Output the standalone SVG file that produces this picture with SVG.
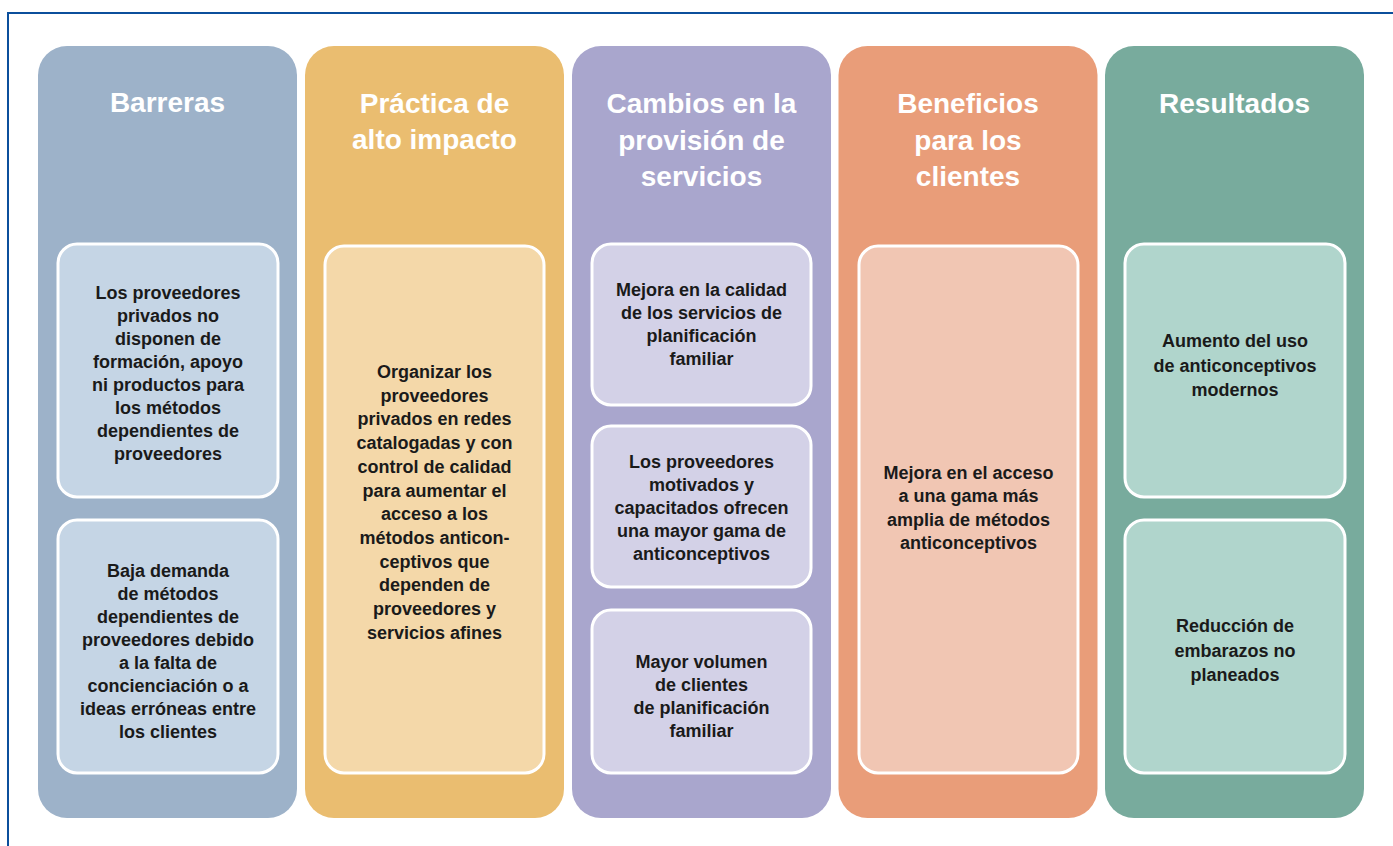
<svg xmlns="http://www.w3.org/2000/svg" width="1393" height="846" viewBox="0 0 1393 846">
<style>
.col{stroke:none}
.box{stroke:#ffffff;stroke-width:3}
.h{font-family:"Liberation Sans",Arial,sans-serif;font-weight:bold;font-size:28px;fill:#ffffff;text-anchor:middle}
.t{font-family:"Liberation Sans",Arial,sans-serif;font-weight:bold;font-size:18px;fill:#1a1a1a;text-anchor:middle}
</style>
<rect width="1393" height="846" fill="#ffffff"/>
<path d="M8,846 V13 H1393" fill="none" stroke="#0b4f9c" stroke-width="2"/>
<g id="connectors"/>

<g id="col-barreras">
<rect class="col" x="38" y="46" width="259" height="772" rx="29" fill="#9db2c9"/>
<text class="h" x="167.5" y="112">Barreras</text>
<g id="barreras-1">
<rect class="box" x="58" y="244" width="220" height="253" rx="19" fill="#c5d5e5"/>
<text class="t" x="168" y="299"><tspan x="168" dy="0">Los proveedores</tspan><tspan x="168" dy="23">privados no</tspan><tspan x="168" dy="23">disponen de</tspan><tspan x="168" dy="23">formación, apoyo</tspan><tspan x="168" dy="23">ni productos para</tspan><tspan x="168" dy="23">los métodos</tspan><tspan x="168" dy="23">dependientes de</tspan><tspan x="168" dy="23">proveedores</tspan></text>
</g>
<g id="barreras-2">
<rect class="box" x="58" y="520" width="220" height="253" rx="19" fill="#c5d5e5"/>
<text class="t" x="168" y="577"><tspan x="168" dy="0">Baja demanda</tspan><tspan x="168" dy="23">de métodos</tspan><tspan x="168" dy="23">dependientes de</tspan><tspan x="168" dy="23">proveedores debido</tspan><tspan x="168" dy="23">a la falta de</tspan><tspan x="168" dy="23">concienciación o a</tspan><tspan x="168" dy="23">ideas erróneas entre</tspan><tspan x="168" dy="23">los clientes</tspan></text>
</g>
</g>

<g id="col-practica">
<rect class="col" x="305" y="46" width="259" height="772" rx="29" fill="#eabd70"/>
<text class="h" x="434.5" y="113"><tspan x="434.5" dy="0">Práctica de</tspan><tspan x="434.5" dy="36">alto impacto</tspan></text>
<g id="practica-1">
<rect class="box" x="325" y="246" width="219" height="527" rx="19" fill="#f4d8a9"/>
<text class="t" x="434.5" y="378"><tspan x="434.5" dy="0">Organizar los</tspan><tspan x="434.5" dy="23.7">proveedores</tspan><tspan x="434.5" dy="23.7">privados en redes</tspan><tspan x="434.5" dy="23.7">catalogadas y con</tspan><tspan x="434.5" dy="23.7">control de calidad</tspan><tspan x="434.5" dy="23.7">para aumentar el</tspan><tspan x="434.5" dy="23.7">acceso a los</tspan><tspan x="434.5" dy="23.7">métodos anticon-</tspan><tspan x="434.5" dy="23.7">ceptivos que</tspan><tspan x="434.5" dy="23.7">dependen de</tspan><tspan x="434.5" dy="23.7">proveedores y</tspan><tspan x="434.5" dy="23.7">servicios afines</tspan></text>
</g>
</g>

<g id="col-cambios">
<rect class="col" x="572" y="46" width="259" height="772" rx="29" fill="#a9a6cd"/>
<text class="h" x="701.5" y="113"><tspan x="701.5" dy="0">Cambios en la</tspan><tspan x="701.5" dy="36.5">provisión de</tspan><tspan x="701.5" dy="36.5">servicios</tspan></text>
<g id="cambios-1">
<rect class="box" x="592" y="244" width="219" height="161" rx="19" fill="#d3d1e7"/>
<text class="t" x="701.5" y="296"><tspan x="701.5" dy="0">Mejora en la calidad</tspan><tspan x="701.5" dy="23">de los servicios de</tspan><tspan x="701.5" dy="23">planificación</tspan><tspan x="701.5" dy="23">familiar</tspan></text>
</g>
<g id="cambios-2">
<rect class="box" x="592" y="426" width="219" height="161" rx="19" fill="#d3d1e7"/>
<text class="t" x="701.5" y="468"><tspan x="701.5" dy="0">Los proveedores</tspan><tspan x="701.5" dy="23">motivados y</tspan><tspan x="701.5" dy="23">capacitados ofrecen</tspan><tspan x="701.5" dy="23">una mayor gama de</tspan><tspan x="701.5" dy="23">anticonceptivos</tspan></text>
</g>
<g id="cambios-3">
<rect class="box" x="592" y="610" width="219" height="163" rx="19" fill="#d3d1e7"/>
<text class="t" x="701.5" y="668"><tspan x="701.5" dy="0">Mayor volumen</tspan><tspan x="701.5" dy="23">de clientes</tspan><tspan x="701.5" dy="23">de planificación</tspan><tspan x="701.5" dy="23">familiar</tspan></text>
</g>
</g>

<g id="col-beneficios">
<rect class="col" x="838.5" y="46" width="259" height="772" rx="29" fill="#e99d79"/>
<text class="h" x="968" y="113"><tspan x="968" dy="0">Beneficios</tspan><tspan x="968" dy="36.5">para los</tspan><tspan x="968" dy="36.5">clientes</tspan></text>
<g id="beneficios-1">
<rect class="box" x="859" y="246" width="219" height="527" rx="19" fill="#f1c6b3"/>
<text class="t" x="968.5" y="479"><tspan x="968.5" dy="0">Mejora en el acceso</tspan><tspan x="968.5" dy="23.3">a una gama más</tspan><tspan x="968.5" dy="23.3">amplia de métodos</tspan><tspan x="968.5" dy="23.3">anticonceptivos</tspan></text>
</g>
</g>

<g id="col-resultados">
<rect class="col" x="1105" y="46" width="259" height="772" rx="29" fill="#78ab9d"/>
<text class="h" x="1234.5" y="113">Resultados</text>
<g id="resultados-1">
<rect class="box" x="1125" y="244" width="220" height="253" rx="19" fill="#b0d5cc"/>
<text class="t" x="1235" y="347"><tspan x="1235" dy="0">Aumento del uso</tspan><tspan x="1235" dy="24.5">de anticonceptivos</tspan><tspan x="1235" dy="24.5">modernos</tspan></text>
</g>
<g id="resultados-2">
<rect class="box" x="1125" y="520" width="220" height="253" rx="19" fill="#b0d5cc"/>
<text class="t" x="1235" y="632"><tspan x="1235" dy="0">Reducción de</tspan><tspan x="1235" dy="24.5">embarazos no</tspan><tspan x="1235" dy="24.5">planeados</tspan></text>
</g>
</g>
</svg>
